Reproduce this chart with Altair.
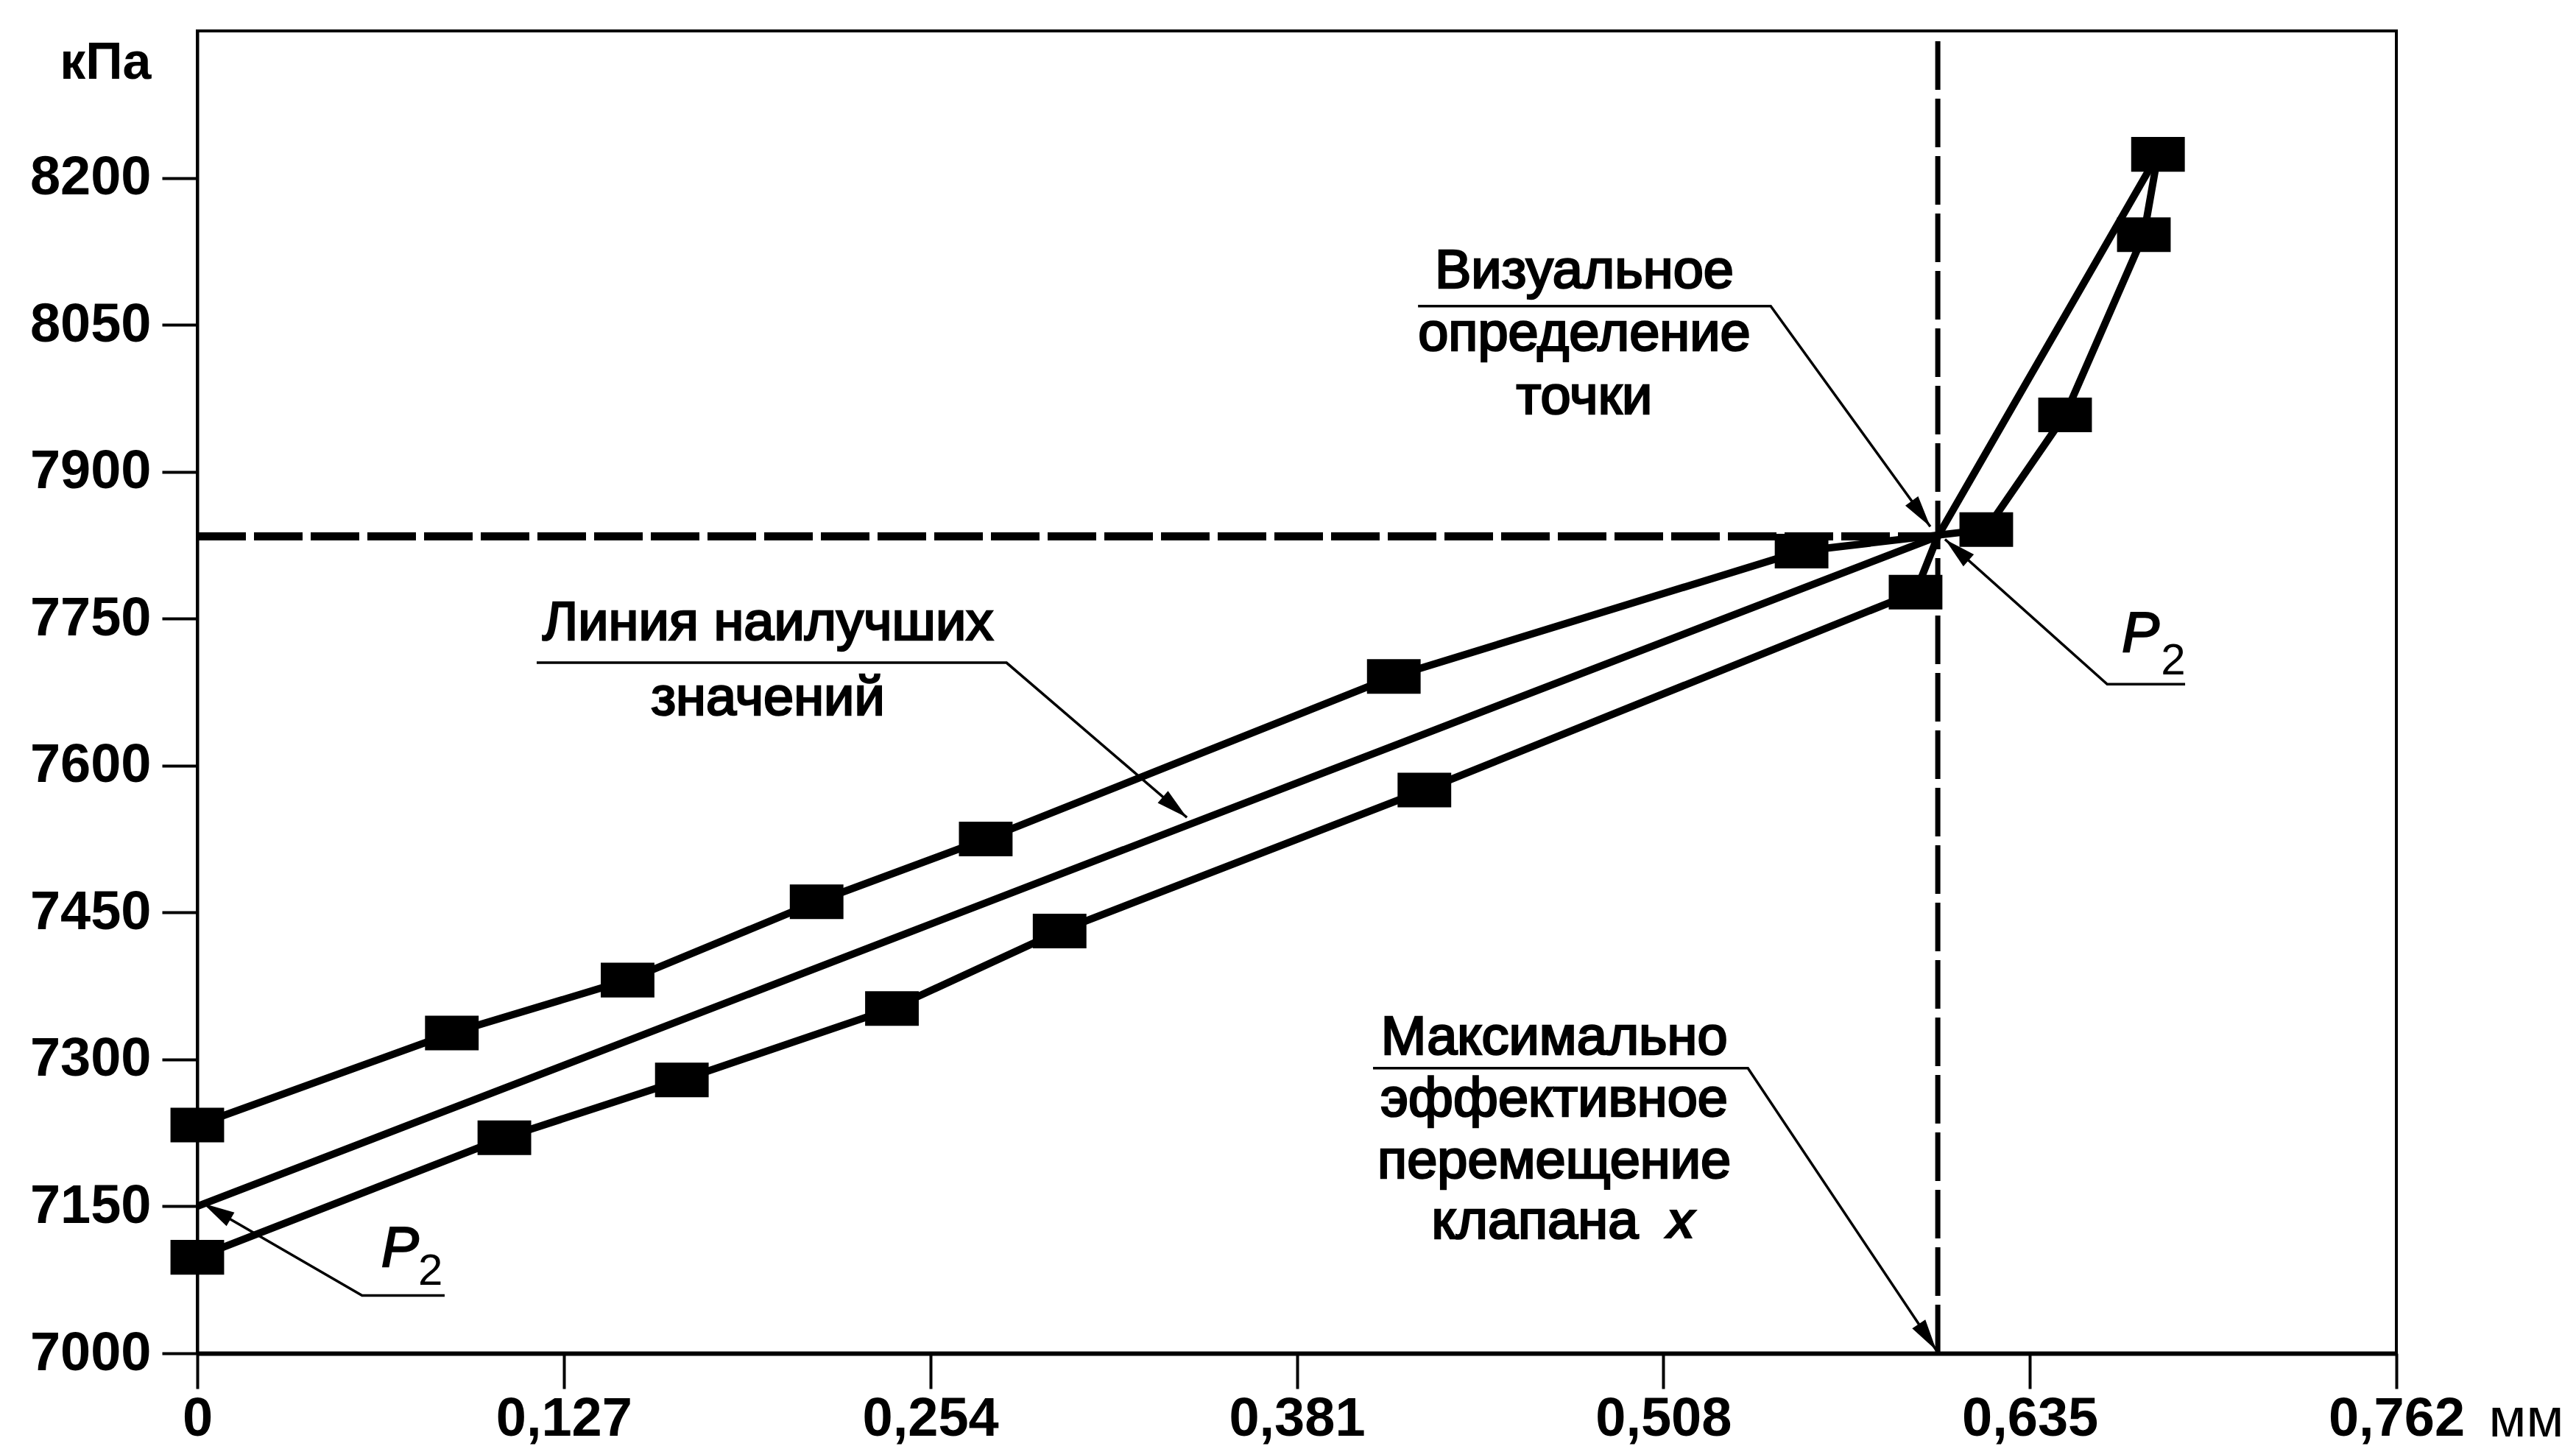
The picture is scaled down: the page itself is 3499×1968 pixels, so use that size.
import math
import altair as alt
import pandas as pd

# ---------------- data ----------------
X_MAX = 0.762
Y_MIN, Y_MAX = 7000, 8350
W, H = 2987, 1796

x_ticks = [0, 0.127, 0.254, 0.381, 0.508, 0.635, 0.762]
y_ticks = [7000, 7150, 7300, 7450, 7600, 7750, 7900, 8050, 8200]

# upper measured series (kPa vs mm)
up_x = [0.0, 0.0882, 0.1491, 0.2146, 0.2732, 0.4146, 0.5559, 0.6199, 0.6472, 0.6745, 0.6794]
up_y = [7233, 7327, 7381, 7461, 7525, 7691, 7819, 7841, 7958, 8142, 8224]
# lower measured series
lo_x = [0.0, 0.1064, 0.1679, 0.2407, 0.2988, 0.4252, 0.5954]
lo_y = [7098, 7220, 7279, 7352, 7431, 7575, 7777]
# visually determined break point
knee_x, knee_y = 0.6031, 7834
# best-fit line
fit_x = [0.0, knee_x, 0.6794]
fit_y = [7150, knee_y, 8224]

# annotation leaders: underline start, corner, arrow tip
leaders = {
    "vis": [(0.4230, 8069), (0.5452, 8069), (0.6005, 7844)],
    "best": [(0.1176, 7705), (0.2804, 7705), (0.3429, 7547)],
    "max": [(0.4074, 7291), (0.5373, 7291), (0.6026, 7003)],
    "p2r": [(0.6888, 7683), (0.6618, 7683), (0.6056, 7831)],
    "p2l": [(0.0857, 7059), (0.0571, 7059), (0.0020, 7153)],
}

text_lines = ["Визуальное", "определение", "точки",
              "Линия наилучших", "значений",
              "Максимально", "эффективное", "перемещение", "клапана"]
text_x = [0.4806, 0.4806, 0.4806, 0.1977, 0.1977, 0.4702, 0.4702, 0.4702, 0.4635]
text_y = [8088, 8024, 7959, 7728, 7652, 7305, 7242, 7179, 7117]

italic_text = ["x"]
italic_x = [0.5140]
italic_y = [7117]

p_x = [0.6669, 0.0638]
p_y = [7716, 7089]
sub_x = [0.6804, 0.0765]
sub_y = [7693, 7070]

# ---------------- tables ----------------
line_rows = []
for i, (a, b) in enumerate(zip(up_x, up_y)):
    line_rows.append({"s": "up", "i": i, "x": a, "y": b})
lo_line_x = lo_x + [knee_x]
lo_line_y = lo_y + [knee_y]
for i, (a, b) in enumerate(zip(lo_line_x, lo_line_y)):
    line_rows.append({"s": "lo", "i": i, "x": a, "y": b})
for i, (a, b) in enumerate(zip(fit_x, fit_y)):
    line_rows.append({"s": "fit", "i": i, "x": a, "y": b})
lines_df = pd.DataFrame(line_rows)

markers_df = pd.DataFrame({"x": up_x + lo_x, "y": up_y + lo_y})

hdash_df = pd.DataFrame({"x": [0.0, knee_x], "y": [knee_y, knee_y], "i": [0, 1]})
vdash_df = pd.DataFrame({"x": [knee_x, knee_x], "y": [Y_MIN, Y_MAX], "i": [0, 1]})

lead_rows = []
arrow_rows = []
for name, pts in leaders.items():
    for i, (a, b) in enumerate(pts):
        lead_rows.append({"s": name, "i": i, "x": a, "y": b})
    (x1, y1), (x2, y2) = pts[-2], pts[-1]
    dxp = (x2 - x1) * W / X_MAX
    dyp = -(y2 - y1) * H / (Y_MAX - Y_MIN)
    ang = math.degrees(math.atan2(dxp, -dyp)) % 360
    arrow_rows.append({"x": x2, "y": y2, "ang": ang})
lead_df = pd.DataFrame(lead_rows)
arrow_df = pd.DataFrame(arrow_rows)

text_df = pd.DataFrame({"x": text_x, "y": text_y, "t": text_lines})
ital_df = pd.DataFrame({"x": italic_x, "y": italic_y, "t": italic_text})
p_df = pd.DataFrame({"x": p_x, "y": p_y, "t": ["P", "P"]})
sub_df = pd.DataFrame({"x": sub_x, "y": sub_y, "t": ["2", "2"]})

# ---------------- encodings ----------------
FONT = "Liberation Sans"

xscale = alt.Scale(domain=[0, X_MAX], nice=False, zero=False)
yscale = alt.Scale(domain=[Y_MIN, Y_MAX], nice=False, zero=False)

xaxis = alt.Axis(
    values=x_ticks,
    labelExpr="datum.value == 0 ? '0' : replace(format(datum.value, '.3f'), '.', ',')",
    labelFlush=False, labelOverlap=False, labelPadding=5, labelLimit=0,
    title="мм", titleX=3112, titleY=112, titleAlign="left",
    titleBaseline="alphabetic", titleFontWeight="normal",
)
yaxis = alt.Axis(
    values=y_ticks, format="d", labelPadding=15, labelOverlap=False, labelLimit=0,
    title="кПа", titleAngle=0, titleX=-63, titleY=64, titleAlign="right",
    titleBaseline="alphabetic", titleFontWeight="bold", titleFontSize=70,
)


def X():
    return alt.X("x:Q", scale=xscale, axis=xaxis)


def Y():
    return alt.Y("y:Q", scale=yscale, axis=yaxis)


hdash = alt.Chart(hdash_df).mark_line(
    color="black", strokeWidth=11, strokeDash=[66, 11]
).encode(x=X(), y=Y(), order="i:Q")

vdash = alt.Chart(vdash_df).mark_line(
    color="black", strokeWidth=7, strokeDash=[66, 12]
).encode(x=X(), y=Y(), order="i:Q")

data_lines = alt.Chart(lines_df).mark_line(
    color="black", strokeWidth=10
).encode(x=X(), y=Y(), detail="s:N", order="i:Q")

markers = alt.Chart(markers_df).mark_point(
    shape="M-1.55,-1L1.55,-1L1.55,1L-1.55,1Z", size=2210,
    filled=True, color="black", opacity=1
).encode(x=X(), y=Y())

lead_lines = alt.Chart(lead_df).mark_line(
    color="black", strokeWidth=3.5
).encode(x=X(), y=Y(), detail="s:N", order="i:Q")

arrows = alt.Chart(arrow_df).mark_point(
    shape="M0,0L-0.5,2L0.5,2Z", size=1849,
    filled=True, color="black", opacity=1
).encode(x=X(), y=Y(), angle=alt.Angle("ang:Q", scale=None))

texts = alt.Chart(text_df).mark_text(
    font=FONT, fontSize=74, color="black", stroke="black", strokeWidth=2.6,
    align="center", baseline="alphabetic"
).encode(x=X(), y=Y(), text="t:N")

ital = alt.Chart(ital_df).mark_text(
    font=FONT, fontSize=74, fontStyle="italic", fontWeight="bold", color="black",
    align="center", baseline="alphabetic"
).encode(x=X(), y=Y(), text="t:N")

ptext = alt.Chart(p_df).mark_text(
    font=FONT, fontSize=76, fontStyle="italic", color="black",
    stroke="black", strokeWidth=2.4, align="left", baseline="alphabetic"
).encode(x=X(), y=Y(), text="t:N")

subtext = alt.Chart(sub_df).mark_text(
    font=FONT, fontSize=60, color="black",
    align="left", baseline="alphabetic"
).encode(x=X(), y=Y(), text="t:N")

chart = alt.layer(
    vdash, hdash, data_lines, markers, lead_lines, arrows,
    texts, ital, ptext, subtext
).properties(
    width=W, height=H,
    autosize=alt.AutoSizeParams(type="none"),
    padding={"left": 260, "top": 34, "right": 236, "bottom": 128},
    background="white",
).configure_view(
    stroke="black", strokeWidth=4
).configure_axis(
    domainColor="black", domainWidth=4, tickColor="black", tickWidth=4,
    tickSize=48, labelColor="black", labelFont=FONT, labelFontSize=74,
    labelFontWeight="bold", grid=False, titleColor="black", titleFont=FONT,
    titleFontSize=74,
).configure_axisX(domainWidth=6)

chart.save("out.html", embed_options={"renderer": "svg", "actions": False})
